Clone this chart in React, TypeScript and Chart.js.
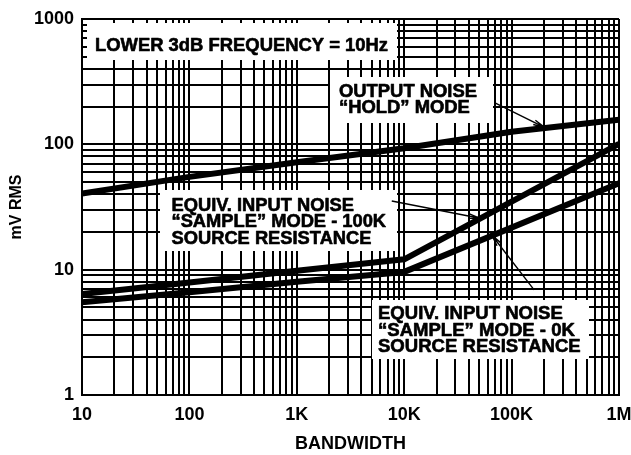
import React, { useEffect, useRef } from 'react';
import { Chart, registerables } from 'chart.js';

Chart.register(...registerables);

const FONT = '"Liberation Sans", Arial, Helvetica, sans-serif';

// Axis ticks
const xMajorTicks = [10, 100, 1000, 10000, 100000, 1000000];
const xTickLabels = ['10', '100', '1K', '10K', '100K', '1M'];
const yMajorTicks = [1, 10, 100, 1000];
const yTickLabels = ['1', '10', '100', '1000'];
const minorSteps = [2, 3, 4, 5, 6, 7, 8, 9];

// Series: Output noise "hold" mode
const holdX = [10, 100, 1000, 10000, 100000, 1000000];
const holdY = [40.5, 55, 72, 93, 126, 157];
// Series: Equiv. input noise "sample" mode - 100K source resistance
const in100kX = [10, 100, 1000, 10000, 1000000];
const in100kY = [6.4, 7.9, 9.8, 12.1, 101];
// Series: Equiv. input noise "sample" mode - 0K source resistance
const in0kX = [10, 100, 1000, 10000, 1000000];
const in0kY = [5.5, 6.6, 8.0, 9.6, 49];

// Annotation texts
const note1Lines = ['LOWER 3dB FREQUENCY = 10Hz'];
const note2Lines = ['OUTPUT NOISE', '\u201CHOLD\u201D MODE'];
const note3Lines = ['EQUIV. INPUT NOISE', '\u201CSAMPLE\u201D MODE - 100K', 'SOURCE RESISTANCE'];
const note4Lines = ['EQUIV. INPUT NOISE', '\u201CSAMPLE\u201D MODE - 0K', 'SOURCE RESISTANCE'];

// Arrows (data coordinates): tail -> tip
const arrowHold = { fromX: 70000, fromY: 214, toX: 204000, toY: 136 };
const arrow100k = { fromX: 7660, fromY: 35.3, toX: 50800, toY: 25.7 };
const arrow0k = { fromX: 162000, fromY: 6.9, toX: 65300, toY: 18.9 };

const withMinors = (majors: number[]) => {
  const out: number[] = [];
  majors.forEach((m, i) => {
    out.push(m);
    if (i < majors.length - 1) minorSteps.forEach((s) => out.push(m * s));
  });
  return out;
};

const noteBoxes = [
  { x0: 87, y0: 23, x1: 397, y1: 60, lines: note1Lines, textX: 95, baselines: [50.5], size: 18, refLine: 0, refWidth: 293 },
  { x0: 330, y0: 77, x1: 493, y1: 123, lines: note2Lines, textX: 339, baselines: [96.7, 113.3], size: 17.5, refLine: 0, refWidth: 138 },
  { x0: 160, y0: 190, x1: 397, y1: 251, lines: note3Lines, textX: 171.5, baselines: [210.7, 227.2, 243.7], size: 17.5, refLine: 2, refWidth: 200 },
  { x0: 372, y0: 300, x1: 589, y1: 359, lines: note4Lines, textX: 378, baselines: [319.3, 335.5, 351.7], size: 17.5, refLine: 2, refWidth: 202.7 },
];

const annotationPlugin = {
  id: 'notes',
  afterDraw(chart: any) {
    const ctx = chart.ctx as CanvasRenderingContext2D;
    const xs = chart.scales.x;
    const ys = chart.scales.y;
    ctx.save();
    noteBoxes.forEach((b) => {
      ctx.fillStyle = '#fff';
      ctx.fillRect(b.x0, b.y0, b.x1 - b.x0, b.y1 - b.y0);
      ctx.font = `bold ${b.size}px ${FONT}`;
      const w = ctx.measureText(b.lines[b.refLine]).width;
      const sx = b.refWidth / w;
      ctx.fillStyle = '#000';
      ctx.strokeStyle = '#000';
      ctx.lineWidth = 0.6;
      ctx.lineJoin = 'round';
      ctx.textBaseline = 'alphabetic';
      ctx.textAlign = 'left';
      b.lines.forEach((t, i) => {
        ctx.save();
        ctx.translate(b.textX, b.baselines[i]);
        ctx.scale(sx, 1);
        ctx.fillText(t, 0, 0);
        ctx.strokeText(t, 0, 0);
        ctx.restore();
      });
    });
    [arrowHold, arrow100k, arrow0k].forEach((a) => {
      const x0 = xs.getPixelForValue(a.fromX);
      const y0 = ys.getPixelForValue(a.fromY);
      const x1 = xs.getPixelForValue(a.toX);
      const y1 = ys.getPixelForValue(a.toY);
      const ang = Math.atan2(y1 - y0, x1 - x0);
      const L = 12;
      const th = 0.2;
      ctx.strokeStyle = '#000';
      ctx.lineWidth = 1.4;
      ctx.beginPath();
      ctx.moveTo(x0, y0);
      ctx.lineTo(x1, y1);
      ctx.moveTo(x1 - L * Math.cos(ang - th), y1 - L * Math.sin(ang - th));
      ctx.lineTo(x1, y1);
      ctx.lineTo(x1 - L * Math.cos(ang + th), y1 - L * Math.sin(ang + th));
      ctx.stroke();
    });
    ctx.restore();
  },
};

const toPoints = (xs: number[], ys: number[]) => xs.map((x, i) => ({ x, y: ys[i] }));

export default function App() {
  const ref = useRef<HTMLCanvasElement>(null);
  useEffect(() => {
    if (!ref.current) return;
    const lineStyle = {
      borderColor: '#000',
      borderWidth: 6,
      pointRadius: 0,
      tension: 0,
      fill: false,
      borderCapStyle: 'butt' as const,
      borderJoinStyle: 'round' as const,
    };
    const chart = new Chart(ref.current, {
      type: 'line',
      data: {
        datasets: [
          { label: 'OUTPUT NOISE "HOLD" MODE', data: toPoints(holdX, holdY), ...lineStyle },
          { label: 'EQUIV. INPUT NOISE 100K', data: toPoints(in100kX, in100kY), ...lineStyle },
          { label: 'EQUIV. INPUT NOISE 0K', data: toPoints(in0kX, in0kY), ...lineStyle },
        ],
      },
      options: {
        animation: false,
        responsive: false,
        layout: { padding: { left: 0, top: 19, right: 12, bottom: 0 } },
        plugins: { legend: { display: false }, tooltip: { enabled: false } },
        scales: {
          x: {
            type: 'logarithmic',
            min: 10,
            max: 1000000,
            afterBuildTicks: (s: any) => {
              s.ticks = withMinors(xMajorTicks).map((v) => ({ value: v }));
            },
            afterFit: (s: any) => {
              s.height = 60;
              s.paddingLeft = 0;
              s.paddingRight = 0;
            },
            ticks: {
              autoSkip: false,
              maxRotation: 0,
              minRotation: 0,
              padding: 9,
              color: '#000',
              font: { family: FONT, size: 18, weight: 'bold' },
              callback: (v: any) => {
                const i = xMajorTicks.indexOf(Number(v));
                return i >= 0 ? xTickLabels[i] : '';
              },
            },
            grid: { color: '#000', lineWidth: 2, drawTicks: false },
            border: { color: '#000', width: 2 },
            title: {
              display: true,
              text: 'BANDWIDTH',
              color: '#000',
              font: { family: FONT, size: 18, weight: 'bold' },
              padding: { top: 0, bottom: 0 },
            },
          },
          y: {
            type: 'logarithmic',
            min: 1,
            max: 1000,
            afterBuildTicks: (s: any) => {
              s.ticks = withMinors(yMajorTicks).map((v) => ({ value: v }));
            },
            afterFit: (s: any) => {
              s.width = 82;
              s.paddingTop = 0;
              s.paddingBottom = 0;
            },
            ticks: {
              autoSkip: false,
              padding: 8,
              color: '#000',
              font: { family: FONT, size: 18, weight: 'bold' },
              callback: (v: any) => {
                const i = yMajorTicks.indexOf(Number(v));
                return i >= 0 ? yTickLabels[i] : '';
              },
            },
            grid: { color: '#000', lineWidth: 2, drawTicks: false },
            border: { color: '#000', width: 2 },
            title: {
              display: true,
              text: 'mV RMS',
              color: '#000',
              font: { family: FONT, size: 16, weight: 'bold' },
              padding: { top: 7, bottom: 0 },
            },
          },
        },
      },
      plugins: [annotationPlugin],
    });
    return () => chart.destroy();
  }, []);
  return (
    <div style={{ position: 'fixed', left: 0, top: 0, width: 631, height: 455, background: '#fff' }}>
      <canvas ref={ref} width={631} height={455} style={{ display: 'block', width: 631, height: 455 }} />
    </div>
  );
}
